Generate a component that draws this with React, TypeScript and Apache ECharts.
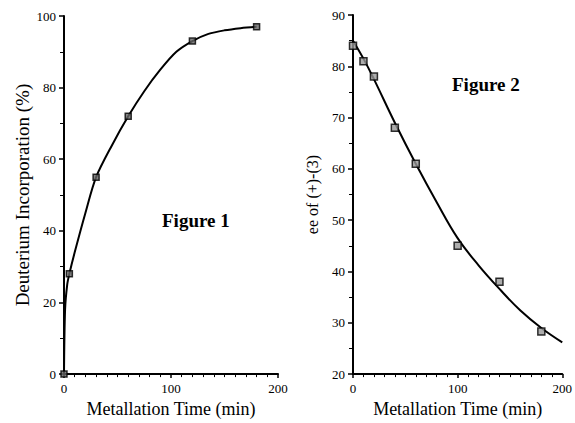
import React, { useEffect, useRef } from "react";
import * as echarts from "echarts";

// Figure 1: measured points
const fig1Time = [0, 5, 30, 60, 120, 180];
const fig1Deut = [0, 28, 55, 72, 93, 97];
// Figure 1: fitted curve
const fig1CurveTime = [0, 1, 3, 5, 10, 20, 30, 45, 60, 75, 90, 105, 120, 135, 150, 165, 180];
const fig1CurveVal = [0, 18, 25, 28, 34, 45, 55, 64, 72, 79, 85, 90, 93, 95, 96, 96.6, 97];

// Figure 2: measured points
const fig2Time = [0, 10, 20, 40, 60, 100, 140, 180];
const fig2Ee = [84, 81, 78, 68, 61, 45, 38, 28.3];
// Figure 2: fitted curve
const fig2CurveTime = [0, 10, 20, 40, 60, 80, 100, 120, 140, 160, 180, 200];
const fig2CurveVal = [85, 81.5, 77.5, 69, 61, 53.5, 46.5, 41.2, 36.6, 32.4, 29, 26.2];

const FONT = "Liberation Serif";

export default function App() {
  const ref = useRef<HTMLDivElement>(null);
  useEffect(() => {
    if (!ref.current) return;
    const chart = echarts.init(ref.current, null, { renderer: "svg" });
    const pair = (xs: number[], ys: number[]) => xs.map((x, i) => [x, ys[i]]);
    const axisText = { fontFamily: FONT, fontSize: 13, color: "#000" };
    const xAxisCommon = {
      type: "value",
      min: 0,
      max: 200,
      interval: 100,
      name: "Metallation Time (min)",
      nameLocation: "middle",
      nameGap: 22,
      nameTextStyle: { fontFamily: FONT, fontSize: 18, color: "#000" },
      axisLine: { show: true, lineStyle: { color: "#000", width: 2 } },
      axisTick: { show: true, length: 4, lineStyle: { color: "#000", width: 1.5 } },
      minorTick: { show: true, splitNumber: 10, length: 3, lineStyle: { color: "#000", width: 1 } },
      splitLine: { show: false },
      axisLabel: { ...axisText, margin: 8 },
    };
    chart.setOption({
      animation: false,
      backgroundColor: "#fff",
      grid: [
        { left: 64, top: 16, width: 214, height: 362 },
        { left: 353, top: 15, width: 213, height: 363 },
      ],
      xAxis: [
        { ...xAxisCommon, gridIndex: 0 },
        { ...xAxisCommon, gridIndex: 1 },
      ],
      yAxis: [
        {
          gridIndex: 0,
          type: "value",
          min: 0,
          max: 100,
          interval: 20,
          name: "Deuterium Incorporation (%)",
          nameLocation: "middle",
          nameGap: 32,
          nameTextStyle: { fontFamily: FONT, fontSize: 19, color: "#000" },
          axisLine: { show: true, lineStyle: { color: "#000", width: 2 } },
          axisTick: { show: true, length: 5, lineStyle: { color: "#000", width: 1.5 } },
          minorTick: { show: true, splitNumber: 2, length: 4, lineStyle: { color: "#000", width: 1 } },
          splitLine: { show: false },
          axisLabel: { ...axisText, margin: 8 },
        },
        {
          gridIndex: 1,
          type: "value",
          min: 20,
          max: 90,
          interval: 10,
          name: "ee of (+)-(3)",
          nameLocation: "middle",
          nameGap: 33,
          nameTextStyle: { fontFamily: FONT, fontSize: 16, color: "#000" },
          axisLine: { show: true, lineStyle: { color: "#000", width: 2 } },
          axisTick: { show: true, length: 5, lineStyle: { color: "#000", width: 1.5 } },
          minorTick: { show: true, splitNumber: 2, length: 4, lineStyle: { color: "#000", width: 1 } },
          splitLine: { show: false },
          axisLabel: { ...axisText, margin: 8 },
        },
      ],
      series: [
        {
          type: "line",
          xAxisIndex: 0,
          yAxisIndex: 0,
          data: pair(fig1CurveTime, fig1CurveVal),
          smooth: 0.3,
          showSymbol: false,
          lineStyle: { color: "#000", width: 2 },
          z: 2,
        },
        {
          type: "scatter",
          xAxisIndex: 0,
          yAxisIndex: 0,
          data: pair(fig1Time, fig1Deut),
          symbol: "rect",
          symbolSize: 6,
          itemStyle: { color: "#666", borderColor: "#000", borderWidth: 1.5 },
          z: 3,
        },
        {
          type: "line",
          xAxisIndex: 1,
          yAxisIndex: 1,
          data: pair(fig2CurveTime, fig2CurveVal),
          smooth: 0.4,
          showSymbol: false,
          lineStyle: { color: "#000", width: 2 },
          z: 2,
        },
        {
          type: "scatter",
          xAxisIndex: 1,
          yAxisIndex: 1,
          data: pair(fig2Time, fig2Ee),
          symbol: "rect",
          symbolSize: 7,
          itemStyle: { color: "#999", borderColor: "#000", borderWidth: 1.5 },
          z: 3,
        },
      ],
      graphic: [
        {
          type: "text",
          left: 162,
          top: 211,
          style: { text: "Figure 1", font: `bold 19px "${FONT}"`, fill: "#000" },
        },
        {
          type: "text",
          left: 452,
          top: 75,
          style: { text: "Figure 2", font: `bold 19px "${FONT}"`, fill: "#000" },
        },
      ],
    });
    return () => chart.dispose();
  }, []);
  return <div ref={ref} style={{ width: 575, height: 423, position: "absolute", left: 0, top: 0 }} />;
}
